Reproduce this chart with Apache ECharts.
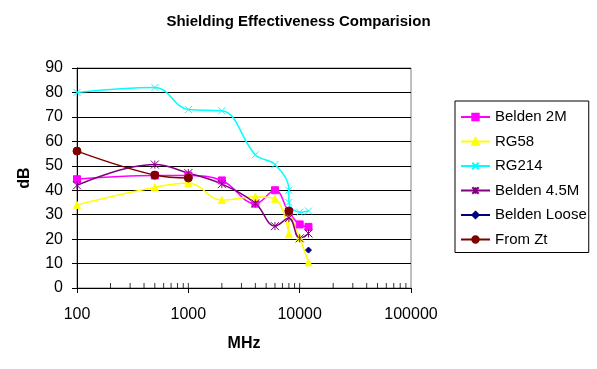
<!DOCTYPE html>
<html>
<head>
<meta charset="utf-8">
<script src="https://cdn.jsdelivr.net/npm/echarts@6/dist/echarts.min.js"></script>
<style>html,body{margin:0;padding:0;background:#fff}#c{width:597px;height:369px}</style>
</head>
<body>
<div id="c"></div>
<script>
const title = 'Shielding Effectiveness Comparision';
const seriesNames = ['Belden 2M', 'RG58', 'RG214', 'Belden 4.5M', 'Belden Loose', 'From Zt'];
const belden2M = [[100,44.5],[500,46],[1000,46],[2000,44],[4000,34.5],[6000,40],[8000,31],[10000,26],[12000,25]];
const rg58 = [[100,34],[500,41.2],[1000,43],[2000,36],[4000,37.3],[6000,36.5],[8000,22],[8000,31.5],[10000,20.5],[12000,10.5]];
const rg214 = [[100,80],[500,82],[1000,73],[2000,72.5],[4000,54.5],[6000,50.5],[8000,40],[8000,35],[10000,31],[12000,31.5]];
const belden45M = [[100,42],[500,50.5],[1000,47],[2000,42.5],[4000,34.6],[6000,25.3],[8000,28.6],[10000,20.3],[12000,22.3]];
const beldenLoose = [[12000,15.5]];
const fromZt = [[100,56],[500,46.2],[1000,45],[2000,'-'],[8000,31.5]];
const minorTicks = [200,300,400,500,600,700,800,900,1000,2000,3000,4000,5000,6000,7000,8000,9000,10000,20000,30000,40000,50000,60000,70000,80000,90000];

const X_PATH = 'path://M0,0L10,10M10,0L0,10';
const STAR_PATH = 'path://M0,0L10,10M10,0L0,10M5,0L5,10';

function mk(name, data, color, symbol, size) {
  return {
    name, type: 'line', data, smooth: 0.4, connectNulls: false,
    symbol, symbolSize: size,
    lineStyle: { color, width: 1.5 },
    itemStyle: { color, borderColor: color, borderWidth: 1 },
    emphasis: { disabled: true }, animation: false
  };
}

const chart = echarts.init(document.getElementById('c'));
chart.setOption({
  backgroundColor: '#fff',
  animation: false,
  title: { text: title, left: 'center', top: 9,
    textStyle: { fontFamily: 'Arial, Liberation Sans', fontSize: 15, fontWeight: 'bold', color: '#000' } },
  grid: { left: 77, right: 186, top: 68, bottom: 81, show: true, borderColor: '#808080', borderWidth: 1, backgroundColor: 'transparent' },
  legend: {
    data: seriesNames, orient: 'vertical', left: 455, top: 101,
    itemWidth: 29, itemHeight: 8, itemGap: 8.5,
    padding: [8, 2, 5, 5],
    borderColor: '#000', borderWidth: 1,
    textStyle: { fontFamily: 'Arial, Liberation Sans', fontSize: 15, color: '#000', lineHeight: 16 }
  },
  xAxis: {
    type: 'log', logBase: 10, min: 100, max: 100000,
    name: 'MHz', nameLocation: 'middle', nameGap: 48,
    nameTextStyle: { fontFamily: 'Arial, Liberation Sans', fontSize: 16, fontWeight: 'bold', color: '#000' },
    axisLine: { lineStyle: { color: '#000', width: 1 } },
    axisTick: { show: true, inside: false, length: 5, lineStyle: { color: '#000' } },
    axisLabel: { margin: 19, fontFamily: 'Arial, Liberation Sans', fontSize: 16, color: '#000',
      formatter: v => String(Math.round(v)) },
    splitLine: { show: false }
  },
  yAxis: {
    type: 'value', min: 0, max: 90, interval: 10,
    name: 'dB', nameLocation: 'middle', nameGap: 44, nameRotate: 90,
    nameTextStyle: { fontFamily: 'Arial, Liberation Sans', fontSize: 16, fontWeight: 'bold', color: '#000' },
    axisLine: { show: true, lineStyle: { color: '#000', width: 1 } },
    axisTick: { show: true, inside: false, length: 5, lineStyle: { color: '#000' } },
    axisLabel: { margin: 14, fontFamily: 'Arial, Liberation Sans', fontSize: 16, color: '#000' },
    splitLine: { show: true, lineStyle: { color: '#000', width: 1 } }
  },
  series: [
    {
      name: 'minor', type: 'scatter', data: minorTicks.map(v => [v, 0]),
      symbol: 'rect', symbolSize: [1, 5], symbolOffset: [0, -2.5],
      itemStyle: { color: '#000' }, clip: false, silent: true, z: 5, animation: false
    },
    mk('Belden 2M', belden2M, '#FF00FF', 'rect', 7),
    mk('RG58', rg58, '#FFFF00', 'triangle', 7),
    mk('RG214', rg214, '#00FFFF', X_PATH, 7),
    mk('Belden 4.5M', belden45M, '#800080', STAR_PATH, 8),
    mk('Belden Loose', beldenLoose, '#000080', 'diamond', 6),
    mk('From Zt', fromZt, '#800000', 'circle', 8)
  ]
});
</script>
</body>
</html>
